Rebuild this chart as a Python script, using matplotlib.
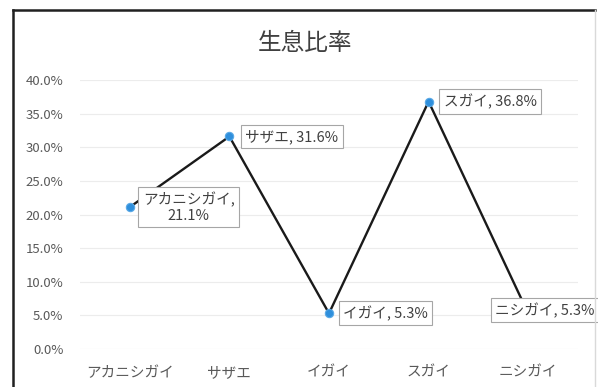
import matplotlib
matplotlib.use("Agg")
import matplotlib.pyplot as plt
from matplotlib.lines import Line2D
from matplotlib.ticker import FuncFormatter

plt.rcParams['font.family'] = ['Noto Sans CJK JP', 'DejaVu Sans']

# data
title = "生息比率"
species = ["アカニシガイ", "サザエ", "イガイ", "スガイ", "ニシガイ"]
ratio = [0.211, 0.316, 0.053, 0.368, 0.053]
yticks = [0.0, 0.05, 0.10, 0.15, 0.20, 0.25, 0.30, 0.35, 0.40]

# label placement (pixels from the point)
label_offsets = [(13, 0), (16, 0), (14, 0), (15, 0), (-33, 3)]

fig = plt.figure(figsize=(5.98, 3.87), dpi=100)
ax = fig.add_axes([80/598, 1-349/387, 498/598, 269/387])

x = list(range(len(species)))
ax.plot(x, ratio, color='#1a1a1a', lw=1.7, zorder=2)
ax.plot(x, ratio, 'o', color='#2f8fdc', ms=6, mec='#5aa9e6', mew=0.8, zorder=3)

ax.set_xlim(-0.5, len(species) - 0.5)
ax.set_ylim(0, 0.4)
ax.set_yticks(yticks)
ax.yaxis.set_major_formatter(FuncFormatter(lambda v, p: f"{v*100:.1f}%"))
ax.set_xticks(x)
ax.set_xticklabels(species)
ax.tick_params(axis='y', length=0, pad=12, labelsize=9.5, labelcolor='#595959')
ax.tick_params(axis='x', length=0, pad=12, labelsize=10.5, labelcolor='#595959')
ax.grid(axis='y', color='#ececec', lw=0.8)
ax.set_axisbelow(True)
for s in ax.spines.values():
    s.set_visible(False)

for i, (name, v) in enumerate(zip(species, ratio)):
    txt = f"{name}, {v*100:.1f}%"
    if i == 0:
        txt = f"{name},\n{v*100:.1f}%"
    dx, dy = label_offsets[i]
    ax.annotate(txt, (i, v), xytext=(dx, dy), textcoords='offset pixels',
                ha='left', va='center', multialignment='center',
                fontsize=10.5, color='#404040', zorder=4, linespacing=1.15,
                bbox=dict(boxstyle='square,pad=0.3', fc='white', ec='#a6a6a6', lw=0.8),
                annotation_clip=False)

fig.text(305/598, 1-43/387, title, ha='center', va='center', fontsize=17, color='#404040')

# chart frame
fig.add_artist(Line2D([13/598, 13/598], [0, 1-10/387], color='#202020', lw=1.8))
fig.add_artist(Line2D([13/598, 595/598], [1-10/387, 1-10/387], color='#202020', lw=1.8))
fig.add_artist(Line2D([595/598, 595/598], [0, 1-10/387], color='#d9d9d9', lw=1))

fig.savefig("out.png", dpi=100)
